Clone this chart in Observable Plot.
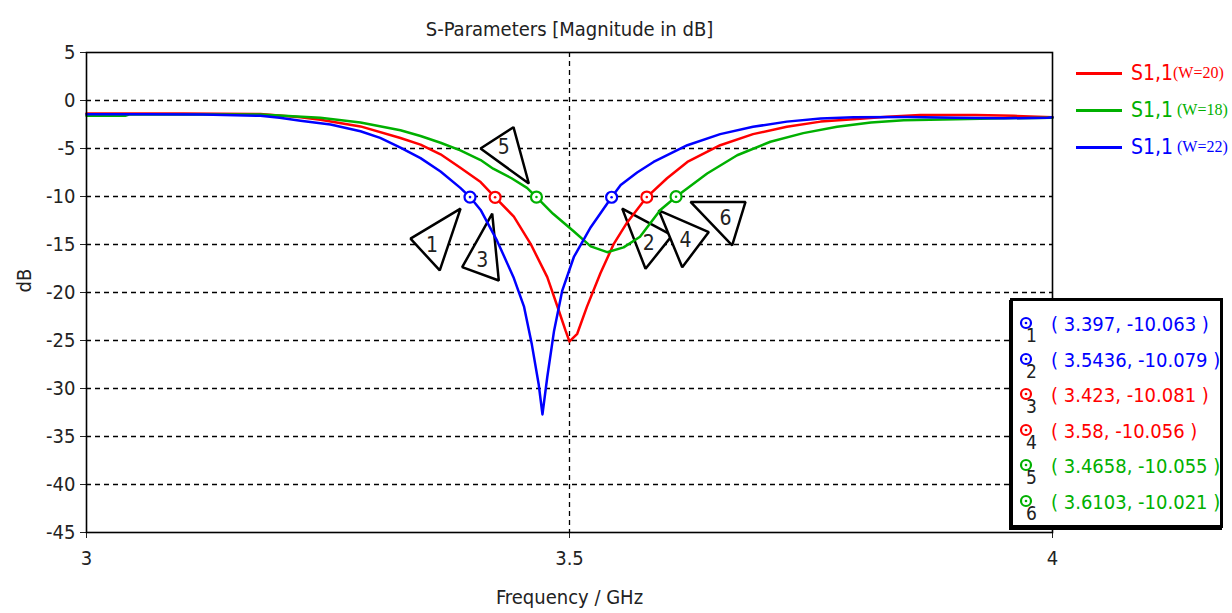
<!DOCTYPE html>
<html><head><meta charset="utf-8">
<script src="https://cdn.jsdelivr.net/npm/d3@7"></script>
<script src="https://cdn.jsdelivr.net/npm/@observablehq/plot@0.6"></script>
<style>
body{margin:0;background:#fff;}
#wrap{position:relative;width:1232px;height:613px;font-family:"DejaVu Sans Condensed","DejaVu Sans",sans-serif;}
#wrap svg{position:absolute;left:0;top:0;overflow:visible;}
#legend{position:absolute;left:1076px;top:55px;}
.lrow{position:absolute;left:0;height:36px;white-space:nowrap;display:flex;align-items:center;}
.lsw{width:46px;height:3px;margin-right:9px;}
.lmain{font-size:21px;}
.lsub{font-family:"Liberation Serif","DejaVu Serif",serif;font-size:16px;}
#mbox{position:absolute;left:1010px;top:298px;width:207px;height:224px;border:3px solid #000;background:#fff;box-shadow:-1px 2px 0 #000;}
.mrow{position:absolute;left:0;width:100%;height:30px;}
.mtext{position:absolute;left:38px;top:2px;font-size:20px;white-space:nowrap;}
.mnum{position:absolute;left:13px;top:14px;font-size:19px;color:#222;}
</style></head><body><div id="wrap"></div>
<script>
// ---- data ----
const seriesNames = ["W=20", "W=18", "W=22"];
const seriesColors = ["#ff0000", "#00b000", "#0000ff"];
const legendMain = ["S1,1", "S1,1", "S1,1"];
const legendSub = ["(W=20)", "\u00a0(W=18)", "\u00a0(W=22)"];

const freqW20 = [3.000,3.100,3.180,3.2215,3.242,3.2836,3.325,3.3458,3.3665,3.387,3.408,3.423,3.4424,3.4596,3.477,3.489,3.496,3.500,3.508,3.518,3.532,3.546,3.5597,3.580,3.601,3.622,3.656,3.690,3.725,3.760,3.794,3.829,3.863,3.920,3.960,4.000];
const dbW20   = [-1.35,-1.35,-1.4,-1.75,-2.0,-2.7,-3.9,-4.6,-5.6,-7.0,-8.5,-10.08,-12.1,-14.9,-18.4,-21.9,-24.0,-25.1,-24.3,-21.5,-18.0,-14.9,-12.7,-10.06,-8.1,-6.4,-4.66,-3.5,-2.74,-2.2,-1.95,-1.7,-1.5,-1.5,-1.6,-1.75];

const freqW18 = [3.000,3.040,3.045,3.180,3.242,3.2836,3.325,3.3458,3.3665,3.387,3.408,3.421,3.440,3.456,3.4658,3.483,3.504,3.522,3.539,3.556,3.573,3.594,3.6103,3.6425,3.6736,3.708,3.742,3.777,3.812,3.846,3.900,3.950,4.000];
const dbW18   = [-1.6,-1.6,-1.45,-1.45,-1.8,-2.3,-3.1,-3.7,-4.4,-5.2,-6.2,-7.1,-8.1,-9.1,-10.06,-11.8,-13.6,-15.2,-15.8,-15.3,-14.2,-11.4,-10.02,-7.6,-5.7,-4.3,-3.4,-2.74,-2.3,-2.05,-1.95,-1.85,-1.8];

const freqW22 = [3.000,3.060,3.120,3.180,3.200,3.2215,3.2526,3.2836,3.304,3.325,3.3458,3.3665,3.387,3.397,3.408,3.425,3.442,3.453,3.461,3.468,3.472,3.477,3.484,3.4925,3.5045,3.522,3.5436,3.553,3.570,3.587,3.622,3.656,3.690,3.725,3.760,3.794,3.850,3.900,3.950,3.995,4.000];
const dbW22   = [-1.42,-1.42,-1.45,-1.6,-1.8,-2.1,-2.5,-3.2,-3.9,-4.9,-6.0,-7.4,-9.1,-10.06,-11.4,-14.6,-18.4,-21.5,-25.4,-29.5,-32.7,-28.8,-24.0,-19.8,-16.3,-13.2,-10.08,-8.8,-7.5,-6.4,-4.66,-3.5,-2.74,-2.2,-1.87,-1.75,-1.72,-1.8,-1.85,-1.8,-1.75];

const markerIds    = [1, 2, 3, 4, 5, 6];
const markerSeries = ["W=22", "W=22", "W=20", "W=20", "W=18", "W=18"];
const markerFreq   = [3.397, 3.5436, 3.423, 3.58, 3.4658, 3.6103];
const markerDb     = [-10.063, -10.079, -10.081, -10.056, -10.055, -10.021];

// callout triangles (vertices read in GHz / dB)
const calloutIds   = [1, 3, 5, 2, 4, 6];
const calloutF     = [[3.3354,3.3872,3.3657],[3.3889,3.4200,3.4268],[3.4079,3.4420,3.4579],[3.5546,3.6063,3.5787],[3.5924,3.6442,3.6167],[3.6253,3.6822,3.6684]];
const calloutDb    = [[-14.39,-11.26,-17.70],[-17.36,-11.79,-18.75],[-5.0,-2.78,-8.65],[-11.26,-14.05,-17.53],[-11.44,-13.71,-17.36],[-10.57,-10.57,-15.09]];
const calloutLabelF  = [3.3578, 3.4096, 3.4320, 3.5821, 3.6201, 3.6615];
const calloutLabelDb = [-15.09, -16.66, -4.83, -14.92, -14.57, -12.31];

const xTicks = [3, 3.5, 4];
const yTicks = [5, 0, -5, -10, -15, -20, -25, -30, -35, -40, -45];
const xGrid = [3.5];
const titleText = "S-Parameters [Magnitude in dB]";
const xLabel = "Frequency / GHz";
const yLabel = "dB";

// ---- build ----
const colorOf = s => seriesColors[seriesNames.indexOf(s)];
const curves = [[freqW20, dbW20], [freqW18, dbW18], [freqW22, dbW22]].map(([fs, ds], i) =>
  fs.map((f, j) => ({series: seriesNames[i], f, db: ds[j]})));
const markers = markerIds.map((id, i) => ({id, series: markerSeries[i], f: markerFreq[i], db: markerDb[i]}));
const callouts = calloutIds.flatMap((id, i) => calloutF[i].map((f, j) => ({id, f, db: calloutDb[i][j]})));
const calloutLabels = calloutIds.map((id, i) => ({id, f: calloutLabelF[i], db: calloutLabelDb[i]}));
const yGrid = yTicks.filter(v => v > -45 && v < 5);

const FONT = '"DejaVu Sans Condensed","DejaVu Sans",sans-serif';
const chart = Plot.plot({
  width: 1232, height: 613,
  marginLeft: 86, marginRight: 180, marginTop: 52, marginBottom: 81,
  x: {domain: [3, 4]},
  y: {domain: [-45, 5]},
  style: {fontFamily: FONT, fontSize: "19px", color: "#222", background: "transparent"},
  marks: [
    Plot.ruleY(yGrid, {stroke: "#000", strokeWidth: 1.3, strokeDasharray: "5,4"}),
    Plot.ruleX(xGrid, {stroke: "#000", strokeWidth: 1.3, strokeDasharray: "5,4"}),
    Plot.axisX({ticks: xTicks, tickFormat: d => String(d), tickSize: 6, tickPadding: 12, label: null, fontSize: 20}),
    Plot.axisY({ticks: yTicks, tickFormat: d => String(d), tickSize: 6, tickPadding: 5, label: null, fontSize: 20}),
    Plot.line(callouts, {x: "f", y: "db", z: "id", stroke: "#000", fill: "white", strokeWidth: 2.5, curve: "linear-closed", strokeLinejoin: "miter"}),
    ...curves.map(c => Plot.line(c, {x: "f", y: "db", stroke: colorOf(c[0].series), strokeWidth: 2.5})),
    Plot.frame({stroke: "#000", strokeWidth: 1.6}),
    Plot.text(calloutLabels, {x: "f", y: "db", text: d => String(d.id), fontSize: 21, fill: "#222"}),
    Plot.dot(markers, {x: "f", y: "db", r: 5.5, fill: "white", stroke: d => colorOf(d.series), strokeWidth: 2.2}),
    Plot.dot(markers, {x: "f", y: "db", r: 1.3, fill: d => colorOf(d.series), stroke: "none"}),
    Plot.text([titleText], {frameAnchor: "top", dy: -31, fontSize: 20, fill: "#222"}),
    Plot.text([xLabel], {frameAnchor: "bottom", dy: 71, fontSize: 20, fill: "#222"}),
    Plot.text([yLabel], {frameAnchor: "left", dx: -62, rotate: -90, fontSize: 20, fill: "#222"})
  ]
});
const wrap = document.getElementById("wrap");
wrap.appendChild(chart);

// series legend
const leg = d3.select(wrap).append("div").attr("id", "legend");
seriesNames.forEach((s, i) => {
  const row = leg.append("div").attr("class", "lrow").style("top", (i * 37) + "px").style("color", seriesColors[i]);
  row.append("div").attr("class", "lsw").style("background", seriesColors[i]);
  row.append("span").attr("class", "lmain").text(legendMain[i]);
  row.append("span").attr("class", "lsub").text(legendSub[i]);
});

// marker table
const box = d3.select(wrap).append("div").attr("id", "mbox");
markers.forEach((m, i) => {
  const row = box.append("div").attr("class", "mrow").style("top", (9 + i * 35.6) + "px");
  const c = colorOf(m.series);
  const sv = row.append("svg").attr("width", 20).attr("height", 20).style("position", "absolute").style("left", "4px").style("top", "4px");
  sv.append("circle").attr("cx", 9).attr("cy", 9).attr("r", 5).attr("fill", "white").attr("stroke", c).attr("stroke-width", 2.2);
  sv.append("circle").attr("cx", 9).attr("cy", 9).attr("r", 1.3).attr("fill", c);
  row.append("div").attr("class", "mtext").style("color", c).text(`( ${m.f}, ${m.db} )`);
  row.append("div").attr("class", "mnum").text(String(m.id));
});
</script></body></html>
